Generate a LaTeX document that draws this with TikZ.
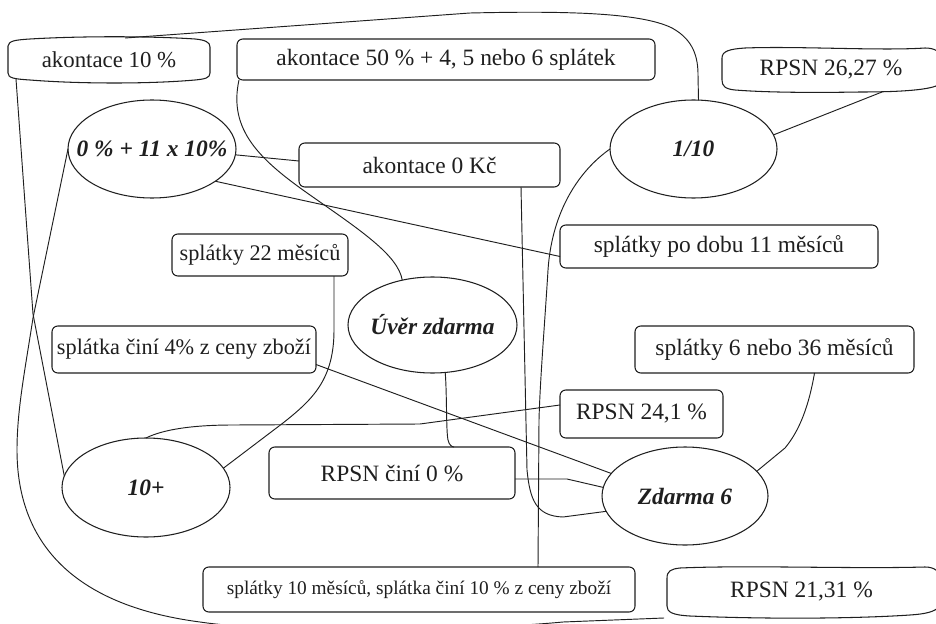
\documentclass[tikz,border=0pt]{standalone}
\usepackage{fontspec}
\setmainfont{Liberation Serif}
\usetikzlibrary{calc,shapes.geometric}
% zero-width text, so that an ellipse keeps the size it is given
\newcommand\zw[1]{\makebox[0pt]{#1}}
\tikzset{
  sz/.style 2 args={minimum width=#1*0.03cm, minimum height=#2*0.03cm},
  txt/.style={inner sep=0pt, outer sep=0pt, font=\fontsize{20}{24}\selectfont},
  rbox/.style={txt, draw, rounded corners=5pt},
  bubble/.style={txt, draw, ellipse, font=\fontsize{20}{24}\selectfont\bfseries\itshape},
  link/.style={line width=0.8pt},
}
\begin{document}
\begin{tikzpicture}[x=0.03cm, y=-0.03cm, line width=0.9pt, color=black!88]
\useasboundingbox (0,0) rectangle (936,623);
\clip (0,0) rectangle (936,623);
\fill[white] (0,0) rectangle (936,623);

% ---- boxes with wavy outlines
\node[txt, sz={202}{44}, font=\fontsize{19.5}{24}\selectfont] (ak10) at (109,60) {akontace 10 \%};
\draw (8,46) .. controls (9,41) and (14,40) .. (30,39) .. controls (80,36) and (150,36) .. (195,39)
  .. controls (205,40) and (210,42) .. (210,47) -- (210,73) .. controls (210,78) and (205,79) .. (195,80)
  .. controls (150,84) and (80,84) .. (30,80) .. controls (14,79) and (8,78) .. (8,73) -- cycle;

\node[txt, sz={218}{44}] (rpsn26) at (831,70) {RPSN 26,27 \%};
\draw (722,58) .. controls (722,51) and (730,49) .. (745,48) .. controls (800,46) and (880,51) .. (925,48)
  .. controls (935,48) and (940,52) .. (940,56) -- (940,84) .. controls (932,90) and (900,92) .. (860,92)
  .. controls (800,93) and (760,92) .. (735,90) .. controls (725,89) and (722,86) .. (722,80) -- cycle;

\node[txt, sz={277}{50}] (rpsn21) at (801.5,592) {RPSN 21,31 \%};
\draw (667,578) .. controls (667,571) and (671,569) .. (680,568) .. controls (750,565) and (850,569) .. (925,567)
  .. controls (935,567) and (940,572) .. (940,578) -- (940,606) .. controls (935,612) and (925,614) .. (910,615)
  .. controls (850,619) and (760,619) .. (690,616) .. controls (672,615) and (667,612) .. (667,606) -- cycle;

% ---- rounded boxes
\node[rbox, sz={418}{41}] (ak50) at (446,59.5) {akontace 50 \% + 4, 5 nebo 6 splátek};
\node[rbox, sz={261}{44}] (ak0) at (429.5,165) {akontace 0 Kč};
\node[rbox, sz={318}{43}] (spl11) at (719,246.5) {splátky po dobu 11 měsíců};
\node[rbox, sz={176}{42}, font=\fontsize{19}{24}\selectfont] (spl22) at (260,255) {splátky 22 měsíců};
\node[rbox, sz={264}{47}, font=\fontsize{19}{24}\selectfont] (spl4) at (184,349.5) {splátka činí 4\% z ceny zboží};
\node[rbox, sz={279}{47}] (spl636) at (774.5,349.5) {splátky 6 nebo 36 měsíců};
\node[rbox, sz={163}{48}] (rpsn241) at (641.5,414) {RPSN 24,1 \%};
\node[rbox, sz={246}{52}] (rpsn0) at (392,473) {RPSN činí 0 \%};
\node[rbox, sz={432}{45}, font=\fontsize{16.5}{20}\selectfont] (spl10) at (419,589.5) {splátky 10 měsíců, splátka činí 10 \% z ceny zboží};

% ---- ellipses
\node[bubble, sz={168}{98}] (e011) at (152,149) {\zw{0 \% + 11 x 10\%}};
\node[bubble, sz={167}{98}] (e110) at (693.5,149) {\zw{1/10}};
\node[bubble, sz={169}{96}] (euz) at (432.5,325) {\zw{Úvěr zdarma}};
\node[bubble, sz={168}{99}] (e10p) at (146,487.5) {\zw{10+}};
\node[bubble, sz={166}{98}] (ez6) at (685,496) {\zw{Zdarma 6}};

% ---- connectors
\draw[link] ($(ak10.north west)!0.58!(ak10.north east)$) -- (470,13)
  .. controls (560,11) and (640,12) .. (672,28) .. controls (694,40) and (698,58) .. (698,75)
  -- ($(e110.north)+(5,0.3)$);
\draw[link] ($(ak10.south west)+(8,-3)$) -- (33,314) -- (e10p.172);
\draw[link] (e011.west) -- (33,318) .. controls (25,370) and (17,410) .. (17,450)
  .. controls (17,540) and (70,605) .. (200,622) .. controls (280,634) and (480,630) .. (563,622)
  -- ($(rpsn21.south west)+(1,1)$);
\draw[link] (e011.-4) -- ($(ak0.west)+(0,-4)$);
\draw[link] (e011.-27) -- ($(spl11.west)+(0,10)$);
\draw[link] ($(ak50.south west)+(2,0)$) .. controls (228,130) and (260,160) .. (310,195)
  .. controls (360,230) and (398,255) .. (euz.124);
\draw[link] ($(ak0.south east)+(-39,0)$) -- (527,470) .. controls (530,500) and (536,516) .. (563,517)
  -- (ez6.191);
\draw[link] (e110.west) .. controls (580,170) and (552,210) .. (548,270)
  .. controls (545,320) and (540,380) .. (539,420) -- ($(spl10.north)+(119,0)$);
\draw[link] (e110.10) -- ($(rpsn26.south)+(51,0)$);
\draw[link] ($(spl22.south east)+(-14,0)$) -- (334,330) .. controls (334,380) and (312,400) .. (283,423)
  -- (e10p.14);
\draw[link] ($(spl4.east)+(0,15)$) -- (ez6.163);
\draw[link] (e10p.north) .. controls (162,430) and (190,425) .. (233,425) -- (420,424)
  -- ($(rpsn241.west)+(0,-9)$);
\draw[link] (euz.-75) .. controls (447,395) and (446,430) .. (448,440)
  .. controls (449,445) and (452,447) .. ($(rpsn0.north)+(62,0)$);
\draw[link] ($(rpsn0.east)+(0,6)$) -- (567,479) -- (ez6.174);
\draw[link] ($(spl636.south)+(40,0)$) .. controls (809,405) and (800,430) .. (785,448) -- (ez6.19);
\end{tikzpicture}
\end{document}
